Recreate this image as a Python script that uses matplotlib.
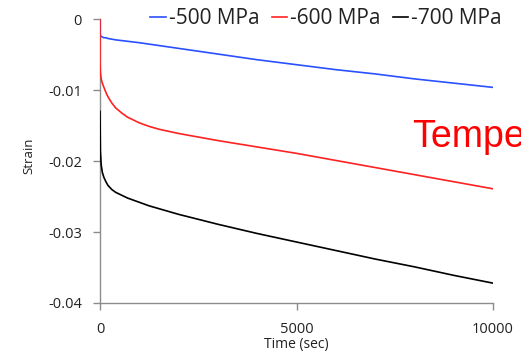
import matplotlib
matplotlib.use("Agg")
import matplotlib.pyplot as plt
from matplotlib.ticker import FuncFormatter

time_sec = [0, 1, 10, 30, 60, 100, 150, 200, 300, 400, 550, 700, 850, 1000, 1250,
            1500, 2000, 2500, 3000, 4000, 5000, 6000, 7000, 8000, 9000, 10000]
strain_500 = [0.0, -0.0022, -0.0023, -0.0024, -0.0025, -0.0026, -0.0026, -0.0027,
              -0.0028, -0.0029, -0.0030, -0.0031, -0.0032, -0.0033, -0.0035,
              -0.0037, -0.0041, -0.0045, -0.0049, -0.0057, -0.0064, -0.0071,
              -0.0077, -0.0084, -0.0090, -0.0096]
strain_600 = [0.0, -0.0062, -0.0075, -0.0084, -0.0090, -0.0096, -0.0103, -0.0109,
              -0.0118, -0.0125, -0.0132, -0.0138, -0.0142, -0.0146, -0.0151,
              -0.0155, -0.0161, -0.0166, -0.0171, -0.0180, -0.0189, -0.0199,
              -0.0209, -0.0219, -0.0229, -0.0239]
strain_700 = [-0.0130, -0.0135, -0.0185, -0.0205, -0.0216, -0.0223, -0.0229, -0.0234,
              -0.0240, -0.0244, -0.0248, -0.0252, -0.0255, -0.0258, -0.0263,
              -0.0267, -0.0275, -0.0282, -0.0289, -0.0302, -0.0314, -0.0326,
              -0.0338, -0.0349, -0.0361, -0.0372]
labels = ["-500 MPa", "-600 MPa", "-700 MPa"]
colors = ["#2a50ff", "#ff2222", "#000000"]
yticks = [0, -0.01, -0.02, -0.03, -0.04]
xticks = [0, 5000, 10000]

plt.rcParams['font.family'] = ['Open Sans', 'DejaVu Sans']

fig = plt.figure(figsize=(5.21, 3.54), dpi=100)
ax = fig.add_axes([100/521, 1-303/354, 393/521, (303-19.3)/354])

for s, lab, c in zip([strain_500, strain_600, strain_700], labels, colors):
    ax.plot(time_sec, s, color=c, lw=1.2, label=lab, zorder=3)

ax.set_xlim(0, 10000)
ax.set_ylim(-0.04, 0)
ax.set_xticks(xticks)
ax.set_yticks(yticks)
ax.yaxis.set_major_formatter(FuncFormatter(lambda v, p: "0" if v == 0 else ("%.2f" % v)))
ax.xaxis.set_major_formatter(FuncFormatter(lambda v, p: "%d" % v))
for sp in ['top', 'right']:
    ax.spines[sp].set_visible(False)
for sp in ['left', 'bottom']:
    ax.spines[sp].set_color('#8c8c8c')
    ax.spines[sp].set_linewidth(1.0)
ax.tick_params(axis='both', direction='out', length=5, width=1, color='#8c8c8c',
               labelsize=10.5, labelcolor='#222222')
ax.tick_params(axis='y', pad=8)
ax.tick_params(axis='x', pad=8.5)
ax.set_xlabel("Time (sec)", fontsize=10, labelpad=0, color='#222222')
ax.set_ylabel("Strain", fontsize=9.5, color='#222222')
ax.yaxis.set_label_coords(-0.165, 0.52)

fig.legend(loc='center', bbox_to_anchor=(326/521, 1-19/354), ncol=3, frameon=False,
           fontsize=15, handlelength=0.75, handletextpad=0.12, columnspacing=0.6,
           borderaxespad=0, borderpad=0, labelcolor='#222222')

fig.text(412/521, 1-147/354, "Temperature", color='#ff0000', fontsize=27,
         family='Liberation Sans', ha='left', va='baseline')

fig.savefig("out.png", dpi=100)
